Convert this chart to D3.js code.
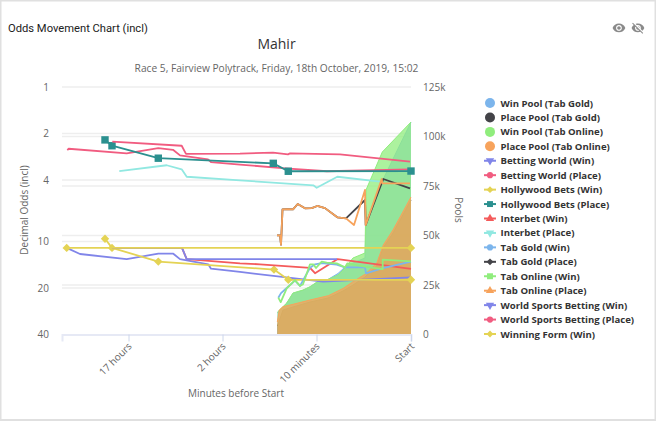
<!DOCTYPE html>
<html>
<head>
<meta charset="utf-8">
<script src="https://cdn.jsdelivr.net/npm/d3@7"></script>
<style>
    html, body { margin: 0; padding: 0; background: #fff; }
    #chart { display: block; }
    text { font-family: "Open Sans", sans-serif; fill: #666; }
</style>
</head>
<body>
<svg id="chart" width="656" height="421"></svg>
<script>
// t is the position along the minutes axis (0 = left edge, 349 = Start)
const tickPositions = [66.5, 160.5, 254.5, 349];
const tickLabels = ["17 hours", "2 hours", "10 minutes", "Start"];
const oddsTicks = [1, 2, 4, 10, 20, 40];
const poolTicks = [0, 25000, 50000, 75000, 100000, 125000];

// pools: [t, rand]
const winPoolGold = [[215.5,11000],[224.7,15700],[231,20800],[241,22300],[248,24000],[258,27400],[264.7,27400],[276,30810],[283,34090],[291,36110],[303,38640],[304,54800],[320.3,77520],[349,107320]];
const placePoolGold = [[215.5,4290],[221,12370],[231,13890],[248,16410],[266,18430],[281,21970],[291,25000],[303,29040],[314.7,34600],[321,43690],[331,51260],[349,67930]];
const winPoolOnline = [[215.5,11360],[224.7,15900],[231,20960],[241,22470],[248,24140],[258,27530],[264.7,27530],[276,30050],[283,33590],[291,38640],[303,41160],[304,72980],[320.3,92170],[349,107320]];
const placePoolOnline = [[215.3,6310],[217.3,12370],[221,14040],[231,15250],[248,17420],[266.3,19600],[281.3,23330],[291,26670],[303,30400],[314.7,35960],[321.3,45200],[331,52780],[349,69440]];

// odds: [t, decimal odds]
const bettingWorldWin = [[4.7,11],[18,12.05],[64.7,13],[96.3,12],[111.3,12],[118,13],[146.3,14.05],[149,15],[178,15.75],[261,18.2],[349,17.05]];
const bettingWorldPlace = [[5.3,2.56],[6.7,2.51],[64.7,2.69],[96.3,2.49],[111,2.55],[118,2.77],[146,2.94],[149,3.06],[178,3.18],[223,3.36],[265,3.51],[348,3.41]];
const hollywoodWin = [[43,9.59],[50,11],[96.3,13.5],[212,15.2],[226.3,17.7],[349,17.7]];
const hollywoodPlace = [[43,2.2],[50,2.4],[96.3,2.89],[211.3,3.12],[226.3,3.51],[349,3.5]];
const interbetWin = [[50,11],[120,11],[124.7,13],[178,13.84],[198,14.05],[248,14.8],[253,16.05],[275.7,13],[349,15.06]];
const interbetPlace = [[57.3,3.5],[104.7,3.21],[119.7,3.41],[124.7,3.81],[178,4.02],[251.3,4.33],[254.7,4.49],[275.3,3.81],[318,4.1]];
const tabGoldWin = [[216.3,23.1],[219,21.6],[224.7,20],[233,17.9],[238,19.4],[248,14.8],[253,14.05],[259.7,13.8],[274.7,14.1],[283,14.7],[303,14.7],[304,16.1],[320.7,14.9],[349,13.5]];
const tabGoldPlace = [[215,9.14],[218,9.14],[219,10.5],[220.5,6.2],[226,6.18],[231,6.2],[235.7,5.72],[243,6.1],[249.7,6.08],[255.3,5.89],[263,6.08],[275.3,6.97],[284,7.08],[303,5.39],[303.7,7.82],[321.3,3.94],[348,4.53]];
const tabOnlineWin = [[216.3,23.1],[218.7,24.7],[224.7,20.1],[233,17.8],[238,19.4],[241,18.9],[248,14.05],[251.3,14.05],[254,14.85],[259.7,13.5],[264.7,13.7],[274.7,13.85],[283,14.7],[285.3,13.85],[303,14.55],[320.7,15.1],[320.7,13.1],[349,13.45]];
const tabOnlinePlace = [[215,9.14],[218,9.14],[219,10.5],[220.5,6.2],[226,6.18],[231,6.2],[235.7,5.72],[243,6.1],[249.7,6.08],[255.3,5.89],[263,6.08],[275.3,6.97],[284,7.08],[292,7.82],[303,4.64],[303.7,7.82],[319.7,3.94],[320.3,4.2],[348,4.2]];
const worldSportsWin = [[50,11],[120,11],[124.7,13],[275,13]];
const worldSportsPlace = [[50.3,2.26],[119.7,2.4],[124,2.71],[178,2.7],[211,2.66],[226,2.73],[228,2.69],[278,2.73],[348,3.04]];
const winningFormWin = [[4.7,11],[349,11]];

const colors = {
    blue: "#7cb5ec", black: "#434348", green: "#90ed7d", orange: "#f7a35c", purple: "#8085e9",
    pink: "#f15c80", yellow: "#e4d354", teal: "#2b908f", red: "#f45b5b", aqua: "#91e8e1"
};

const pools = [
    {name: "Win Pool (Tab Gold)", color: colors.blue, data: winPoolGold},
    {name: "Place Pool (Tab Gold)", color: colors.black, data: placePoolGold},
    {name: "Win Pool (Tab Online)", color: colors.green, data: winPoolOnline},
    {name: "Place Pool (Tab Online)", color: colors.orange, data: placePoolOnline}
];

const lines = [
    {name: "Betting World (Win)", color: colors.purple, data: bettingWorldWin, symbol: "triangle-down"},
    {name: "Betting World (Place)", color: colors.pink, data: bettingWorldPlace, symbol: "circle"},
    {name: "Hollywood Bets (Win)", color: colors.yellow, data: hollywoodWin, symbol: "diamond", markers: true},
    {name: "Hollywood Bets (Place)", color: colors.teal, data: hollywoodPlace, symbol: "square", markers: true},
    {name: "Interbet (Win)", color: colors.red, data: interbetWin, symbol: "triangle"},
    {name: "Interbet (Place)", color: colors.aqua, data: interbetPlace, symbol: "triangle-down"},
    {name: "Tab Gold (Win)", color: colors.blue, data: tabGoldWin, symbol: "circle"},
    {name: "Tab Gold (Place)", color: colors.black, data: tabGoldPlace, symbol: "diamond"},
    {name: "Tab Online (Win)", color: colors.green, data: tabOnlineWin, symbol: "square"},
    {name: "Tab Online (Place)", color: colors.orange, data: tabOnlinePlace, symbol: "triangle"},
    {name: "World Sports Betting (Win)", color: colors.purple, data: worldSportsWin, symbol: "triangle-down"},
    {name: "World Sports Betting (Place)", color: colors.pink, data: worldSportsPlace, symbol: "circle"},
    {name: "Winning Form (Win)", color: colors.yellow, data: winningFormWin, symbol: "diamond", markers: true}
];

const svg = d3.select("#chart");

// card border
svg.append("rect")
    .attr("x", 0.5).attr("y", 0.5).attr("width", 655).attr("height", 419.5)
    .attr("fill", "#fff").attr("stroke", "#e0e0e0").attr("stroke-width", 2);

const x = d3.scaleLinear().domain([0, 349]).range([62, 411]);
// odds axis is reversed, 1 at the top
const yOdds = d3.scaleLog().base(2).domain([1, 40]).range([87, 334.5]);
const yPool = d3.scaleLinear().domain([0, 125000]).range([334.5, 87]);

// grid lines, one set for each y axis
const grid = svg.append("g").attr("stroke", "#eeeeee").attr("stroke-width", 1.5);
oddsTicks.slice(0, 5).forEach(v => {
    grid.append("line").attr("x1", 62).attr("x2", 411).attr("y1", yOdds(v)).attr("y2", yOdds(v));
});
poolTicks.slice(1, 5).forEach(v => {
    grid.append("line").attr("x1", 62).attr("x2", 411).attr("y1", yPool(v)).attr("y2", yPool(v));
});

// pool areas go under the odds lines
const area = d3.area().x(d => x(d[0])).y0(yPool(0)).y1(d => yPool(d[1]));
const poolLine = d3.line().x(d => x(d[0])).y(d => yPool(d[1]));
pools.forEach(s => {
    svg.append("path").attr("d", area(s.data)).attr("fill", s.color).attr("fill-opacity", 0.75);
    svg.append("path").attr("d", poolLine(s.data)).attr("fill", "none").attr("stroke", s.color).attr("stroke-width", 1);
});

// x axis
const xAxis = svg.append("g")
    .attr("transform", "translate(0,334.5)")
    .call(d3.axisBottom(x)
        .tickValues(tickPositions)
        .tickSize(7)
        .tickFormat((d, i) => tickLabels[i]));
xAxis.select(".domain").attr("stroke", "#e6e9f5").attr("stroke-width", 2);
xAxis.selectAll(".tick line").attr("stroke", "#ccd6eb");
xAxis.selectAll(".tick text")
    .attr("transform", "translate(1,10) rotate(-45)")
    .attr("x", 0).attr("y", 0).attr("dy", "0.35em")
    .style("text-anchor", "end")
    .style("font-size", "10px")
    .style("font-family", '"Open Sans", sans-serif');

// y axes, labels only
const leftAxis = svg.append("g")
    .attr("transform", "translate(62,0)")
    .call(d3.axisLeft(yOdds).tickValues(oddsTicks).tickSize(0).tickPadding(13).tickFormat(d3.format("d")));
const rightAxis = svg.append("g")
    .attr("transform", "translate(411,0)")
    .call(d3.axisRight(yPool).tickValues(poolTicks).tickSize(0).tickPadding(12).tickFormat(d => d === 0 ? "0" : (d / 1000) + "k"));
[leftAxis, rightAxis].forEach(a => {
    a.select(".domain").remove();
    a.selectAll("text").style("font-size", "10px").style("font-family", '"Open Sans", sans-serif');
});

// odds lines
const oddsLine = d3.line().x(d => x(d[0])).y(d => yOdds(d[1]));
const symbolTypes = {
    "circle": d3.symbolCircle,
    "diamond": d3.symbolDiamond2,
    "square": d3.symbolSquare2,
    "triangle": d3.symbolTriangle,
    "triangle-down": d3.symbolTriangle
};

function symbolPath(name, size) {
    return d3.symbol().type(symbolTypes[name]).size(size)();
}

lines.forEach(s => {
    svg.append("path")
        .attr("d", oddsLine(s.data))
        .attr("fill", "none")
        .attr("stroke", s.color)
        .attr("stroke-width", 1.8)
        .attr("stroke-linejoin", "round");
    if (s.markers) {
        svg.selectAll(null)
            .data(s.data)
            .enter()
            .append("path")
            .attr("d", symbolPath(s.symbol, s.symbol === "square" ? 70 : 45))
            .attr("fill", s.color)
            .attr("transform", d => "translate(" + x(d[0]) + "," + yOdds(d[1]) + ")");
    }
});

// titles
svg.append("text").attr("x", 8).attr("y", 32).text("Odds Movement Chart (incl)")
    .style("font-family", "Roboto, sans-serif").style("font-size", "11.2px").style("fill", "#212121");
svg.append("text").attr("x", 276.5).attr("y", 49).attr("text-anchor", "middle").text("Mahir")
    .style("font-size", "14px").style("fill", "#333");
svg.append("text").attr("x", 276.5).attr("y", 72).attr("text-anchor", "middle")
    .text("Race 5, Fairview Polytrack, Friday, 18th October, 2019, 15:02")
    .style("font-size", "10.2px");
svg.append("text").attr("x", 236).attr("y", 397).attr("text-anchor", "middle").text("Minutes before Start")
    .style("font-size", "10px");
svg.append("text").attr("transform", "translate(28,210) rotate(-90)").attr("text-anchor", "middle")
    .text("Decimal Odds (incl)").style("font-size", "10px");
svg.append("text").attr("transform", "translate(455,210) rotate(90)").attr("text-anchor", "middle")
    .text("Pools").style("font-size", "10px");

// the two eye icons in the card header
const eyeOn = "M12 4.5C7 4.5 2.73 7.61 1 12c1.73 4.39 6 7.5 11 7.5s9.27-3.11 11-7.5c-1.73-4.39-6-7.5-11-7.5zM12 17c-2.76 0-5-2.24-5-5s2.24-5 5-5 5 2.24 5 5-2.24 5-5 5zm0-8c-1.66 0-3 1.34-3 3s1.34 3 3 3 3-1.34 3-3-1.34-3-3-3z";
const eyeOff = "M12 7c2.76 0 5 2.24 5 5 0 .65-.13 1.26-.36 1.83l2.92 2.92c1.51-1.26 2.7-2.89 3.43-4.75-1.73-4.39-6-7.5-11-7.5-1.4 0-2.74.25-3.98.7l2.16 2.16C10.74 7.13 11.35 7 12 7zM2 4.27l2.28 2.28.46.46C3.08 8.3 1.78 10.02 1 12c1.73 4.39 6 7.5 11 7.5 1.55 0 3.03-.3 4.38-.84l.42.42L19.73 22 21 20.73 3.27 3 2 4.27zM7.53 9.8l1.55 1.55c-.05.21-.08.43-.08.65 0 1.66 1.34 3 3 3 .22 0 .44-.03.65-.08l1.55 1.55c-.67.33-1.41.53-2.2.53-2.76 0-5-2.24-5-5 0-.79.2-1.53.53-2.2zm4.31-.78l3.15 3.15.02-.16c0-1.66-1.34-3-3-3l-.17.01z";
[[612, eyeOn], [631, eyeOff]].forEach(d => {
    svg.append("path").attr("d", d[1]).attr("fill", "#8a8a8a")
        .attr("transform", "translate(" + d[0] + ",21) scale(0.58)");
});

// legend
const legendY = d3.scalePoint()
    .domain(pools.concat(lines).map(d => d.name))
    .range([103, 334]);

const legend = svg.append("g");
pools.forEach(s => {
    legend.append("circle").attr("cx", 490).attr("cy", legendY(s.name)).attr("r", 5)
        .attr("fill", s.color);
    legendText(s.name);
});
lines.forEach(s => {
    const ly = legendY(s.name);
    legend.append("line").attr("x1", 484).attr("x2", 496).attr("y1", ly).attr("y2", ly)
        .attr("stroke", s.color).attr("stroke-width", 2);
    legend.append("path")
        .attr("d", symbolPath(s.symbol, s.symbol === "square" ? 45 : 30))
        .attr("fill", s.color)
        .attr("transform", "translate(490," + ly + ")" + (s.symbol === "triangle-down" ? " rotate(180)" : ""));
    legendText(s.name);
});

function legendText(name) {
    legend.append("text")
        .attr("x", 500.5)
        .attr("y", legendY(name) + 3.5)
        .text(name)
        .style("font-size", "9.6px")
        .style("font-weight", "bold")
        .style("fill", "#333");
}
</script>
</body>
</html>
